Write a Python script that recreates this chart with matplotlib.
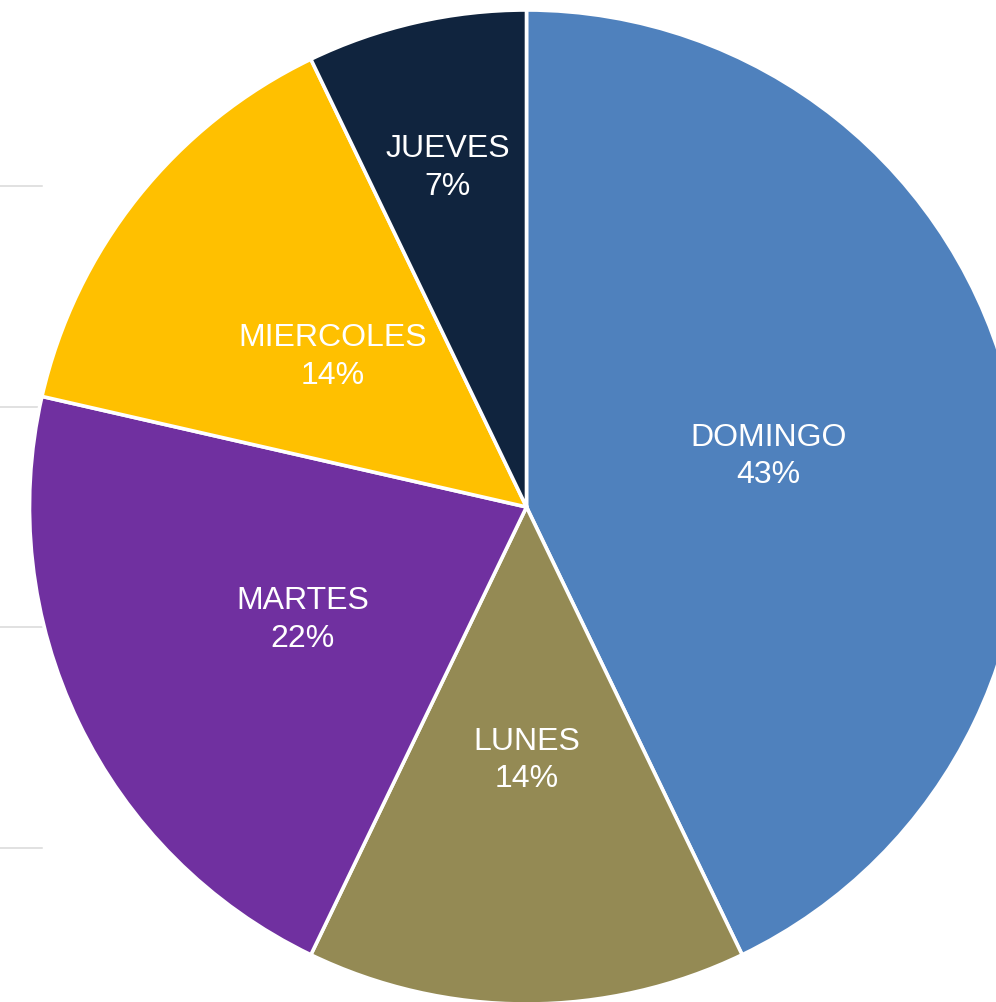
import matplotlib.pyplot as plt
import numpy as np

# --- Данные ---
dias = ["DOMINGO", "LUNES", "MARTES", "MIERCOLES", "JUEVES"]
valores = [6, 2, 3, 2, 1]
porcentajes = ["43%", "14%", "22%", "14%", "7%"]
colores = ["#4F81BD", "#948A54", "#7030A0", "#FFC000", "#10243E"]

# --- Disposición (en píxeles) ---
W, H = 996, 1003
CENTRO = (526.5, H - 508)
RADIO = 497
DIST_ETIQUETA = [0.5, 0.5, 0.5, 0.5, 0.71]
GRID_Y = [187, 407.5, 628, 848.5]   # líneas de fondo a la izquierda

fig = plt.figure(figsize=(W / 100, H / 100), dpi=100)
ax = fig.add_axes([0, 0, 1, 1])

for y in GRID_Y:
    ax.axhline(H - y, xmin=0, xmax=42 / W, color="#D9D9D9", linewidth=1.1, zorder=0)

wedges, _ = ax.pie(valores, colors=colores, startangle=90, counterclock=False,
                   center=CENTRO, radius=RADIO,
                   wedgeprops=dict(edgecolor="white", linewidth=2.6))

for w, dia, pct, d in zip(wedges, dias, porcentajes, DIST_ETIQUETA):
    ang = np.deg2rad((w.theta1 + w.theta2) / 2)
    x = CENTRO[0] + d * RADIO * np.cos(ang)
    y = CENTRO[1] + d * RADIO * np.sin(ang) - 4
    ax.text(x, y, f"{dia}\n{pct}", ha="center", va="center", color="white",
            fontsize=23, family=["Liberation Sans", "DejaVu Sans"], linespacing=1.32)

ax.set_xlim(0, W)
ax.set_ylim(0, H)
ax.set_aspect("equal")
ax.axis("off")

fig.savefig("out.png", dpi=100)
